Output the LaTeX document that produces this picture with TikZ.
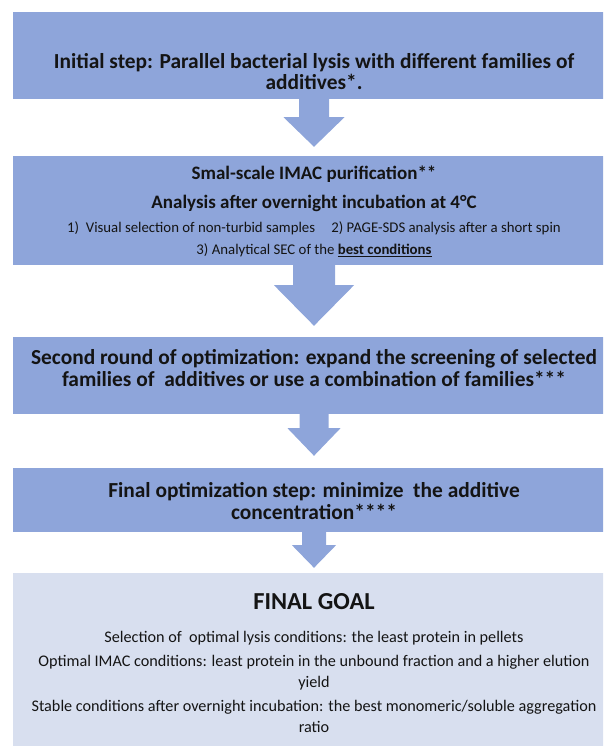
\documentclass[tikz,border=0pt]{standalone}
\usepackage{fontspec}
\setmainfont{Carlito}
\usetikzlibrary{calc}
\definecolor{stepblue}{RGB}{142,165,218}
\definecolor{goalblue}{RGB}{216,223,239}
\definecolor{txtdark}{RGB}{20,20,20}
\tikzset{
  stepbox/.style={rectangle, fill=stepblue, minimum width=602pt, inner sep=0pt},
  goalbox/.style={rectangle, fill=goalblue, minimum width=602pt, inner sep=0pt},
  blockarrow/.style={fill=stepblue},
  headtext/.style={font=\fontsize{21.4}{21.5}\selectfont\bfseries, align=center,
    inner sep=0pt, text=txtdark},
  subtext/.style={font=\fontsize{14.8}{18}\selectfont, align=center,
    inner sep=0pt, text=txtdark},
  goaltext/.style={font=\fontsize{16.2}{21}\selectfont, align=center,
    inner sep=0pt, text=txtdark}
}
\begin{document}
\begin{tikzpicture}[x=1pt, y=-1pt]
  \useasboundingbox (0,0) rectangle (603,746);
  \clip (0,0) rectangle (603,746);
  % Boxes
  \node[stepbox, minimum height=87pt] (box1) at (314,55.5) {};
  \node[stepbox, minimum height=109pt] (box2) at (314,210.5) {};
  \node[stepbox, minimum height=77pt] (box3) at (314,375.5) {};
  \node[stepbox, minimum height=64pt] (box4) at (314,500) {};
  \node[goalbox, minimum height=177pt] (box5) at (314,661.5) {};
  % Block arrows between the boxes
  \fill[blockarrow] ($(box1.south)+(-15,0)$) -- ++(0,18) -- ++(-15.5,0)
    -- ($(box2.north)+(0,-9)$) -- ($(box1.south)+(30.5,18)$) -- ++(-15.5,0)
    -- ($(box1.south)+(15,0)$) -- cycle;
  \fill[blockarrow] ($(box2.south)+(-21,0)$) -- ++(0,20) -- ++(-19,0)
    -- ($(box3.north)+(0,-11)$) -- ($(box2.south)+(40,20)$) -- ++(-19,0)
    -- ($(box2.south)+(21,0)$) -- cycle;
  \fill[blockarrow] ($(box3.south)+(-14.5,0)$) -- ++(0,14) -- ++(-12,0)
    -- ($(box4.north)+(0,-12)$) -- ($(box3.south)+(26.5,14)$) -- ++(-12,0)
    -- ($(box3.south)+(14.5,0)$) -- cycle;
  \fill[blockarrow] ($(box4.south)+(-12,0)$) -- ++(0,13) -- ++(-10,0)
    -- ($(box5.north)+(0,-5)$) -- ($(box4.south)+(22,13)$) -- ++(-10,0)
    -- ($(box4.south)+(12,0)$) -- cycle;
  % Texts
  \node[headtext] (initial) at (314,71.5)
    {Initial step: Parallel bacterial lysis with different families of\\additives*.};
  \node[headtext, font=\fontsize{19}{20}\selectfont\bfseries] (imac) at (314,174)
    {Smal-scale IMAC purification**};
  \node[headtext, font=\fontsize{19}{22}\selectfont\bfseries] (analysis) at (314,203)
    {Analysis after overnight incubation at 4°C};
  \node[subtext] (checks) at (314,228)
    {1)\ \ Visual selection of non-turbid samples\hspace{1.1em}2) PAGE-SDS analysis after a short spin};
  \node[subtext] (sec) at (314,250)
    {3) Analytical SEC of the \underline{\textbf{best conditions}}};
  \node[headtext] (second) at (314,368)
    {Second round of optimization: expand the screening of selected\\families of\ \ additives or use a combination of families***};
  \node[headtext] (finalopt) at (314,501)
    {Final optimization step: minimize\ \ the additive\\concentration****};
  \node[headtext, font=\fontsize{24.4}{28}\selectfont\bfseries] (goal) at (314,602)
    {FINAL GOAL};
  \node[goaltext] (lysis) at (314,638)
    {Selection of\ \ optimal lysis conditions: the least protein in pellets};
  \node[goaltext] (imacgoal) at (314,673)
    {Optimal IMAC conditions: least protein in the unbound fraction and a higher elution\\yield};
  \node[goaltext] (stable) at (314,716)
    {Stable conditions after overnight incubation: the best monomeric/soluble aggregation\\ratio};
\end{tikzpicture}
\end{document}
